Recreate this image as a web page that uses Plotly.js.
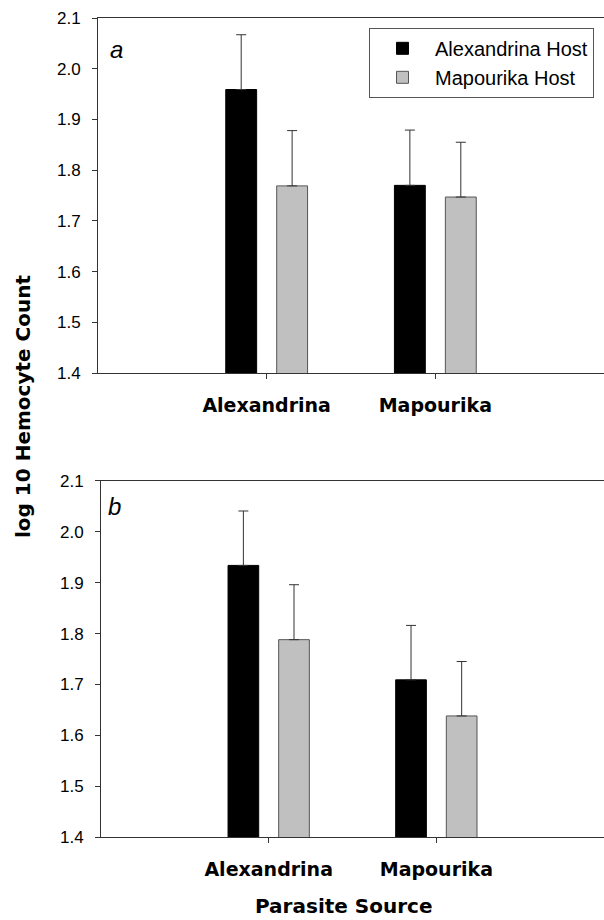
<!DOCTYPE html>
<html>
<head>
<meta charset="utf-8">
<script src="https://cdn.plot.ly/plotly-3.0.1.min.js"></script>
<style>html,body{margin:0;padding:0;background:#fff;}#chart{width:604px;height:920px;}</style>
</head>
<body>
<div id="chart"></div>
<script>
// ---- data ----
const categories = ['Alexandrina', 'Mapourika'];
const hostNames = ['Alexandrina Host', 'Mapourika Host'];

// panel a
const aAlexHost = [1.959, 1.770];
const aAlexHostErr = [0.108, 0.109];
const aMapHost = [1.769, 1.747];
const aMapHostErr = [0.109, 0.108];

// panel b
const bAlexHost = [1.934, 1.709];
const bAlexHostErr = [0.107, 0.107];
const bMapHost = [1.788, 1.638];
const bMapHostErr = [0.108, 0.107];

const panelLabels = ['a', 'b'];
const xTitle = 'Parasite Source';
const yTitle = 'log 10 Hemocyte Count';

// ---- styles ----
const axisColor = '#333333';
const fills = ['#000000', '#c0c0c0'];
const outlines = ['#000000', '#555555'];
const zeros = categories.map(() => 0);

function barTrace(name, vals, errs, idx, xa, ya, showLegend) {
  return {
    type: 'bar', name: name, x: categories, y: vals,
    xaxis: xa, yaxis: ya, showlegend: showLegend, legendgroup: name,
    marker: {color: fills[idx], line: {color: outlines[idx], width: 1}},
    error_y: {type: 'data', symmetric: false, array: errs, arrayminus: zeros,
              color: axisColor, thickness: 1, width: 5}
  };
}

const data = [
  barTrace(hostNames[0], aAlexHost, aAlexHostErr, 0, 'x', 'y', true),
  barTrace(hostNames[1], aMapHost, aMapHostErr, 1, 'x', 'y', true),
  barTrace(hostNames[0], bAlexHost, bAlexHostErr, 0, 'x2', 'y2', false),
  barTrace(hostNames[1], bMapHost, bMapHostErr, 1, 'x2', 'y2', false)
];

const tickFont = {family: '"Liberation Sans", Arial, sans-serif', size: 17, color: '#000'};
const catFont = {family: '"DejaVu Sans", sans-serif', size: 19, color: '#000', weight: 'bold'};

function xAxis(anchor, domain) {
  return {
    anchor: anchor, domain: domain, type: 'category', range: [-1, 2],
    showline: true, linecolor: axisColor, linewidth: 1, mirror: true,
    ticks: 'outside', ticklen: 5, tickcolor: axisColor, tickwidth: 1,
    tickfont: catFont, ticklabelstandoff: 10, showgrid: false, zeroline: false,
    fixedrange: true
  };
}
function yAxis(anchor, domain) {
  return {
    anchor: anchor, domain: domain, range: [1.4, 2.1], dtick: 0.1, tick0: 1.4,
    tickformat: '.1f',
    showline: true, linecolor: axisColor, linewidth: 1, mirror: false,
    ticks: 'outside', ticklen: 5, tickcolor: axisColor, tickwidth: 1,
    tickfont: tickFont, ticklabelstandoff: 8, showgrid: false, zeroline: false,
    fixedrange: true
  };
}

const layout = {
  width: 604, height: 920,
  margin: {l: 98, r: 0, t: 18, b: 83},
  paper_bgcolor: '#fff', plot_bgcolor: '#fff',
  barmode: 'group', bargap: 0.396, bargroupgap: 0.394,
  xaxis: xAxis('y', [0, 1]),
  yaxis: yAxis('x', [0.5665, 1]),
  xaxis2: xAxis('y2', [0.006, 1]),
  yaxis2: yAxis('x2', [0, 0.4347]),
  showlegend: true,
  legend: {
    x: 0.5356, y: 0.988, xanchor: 'left', yanchor: 'top',
    bordercolor: '#555555', borderwidth: 1, bgcolor: '#fff',
    font: {family: '"Liberation Sans", Arial, sans-serif', size: 20, color: '#000'},
    itemwidth: 55, tracegroupgap: 0
  },
  annotations: [
    {text: panelLabels[0], xref: 'x domain', yref: 'y domain', x: 0.02, y: 0.91,
     xanchor: 'left', yanchor: 'middle', showarrow: false,
     font: {family: '"Liberation Sans", Arial, sans-serif', size: 24, style: 'italic', color: '#000'}},
    {text: panelLabels[1], xref: 'x2 domain', yref: 'y2 domain', x: 0.01, y: 0.927,
     xanchor: 'left', yanchor: 'middle', showarrow: false,
     font: {family: '"Liberation Sans", Arial, sans-serif', size: 24, style: 'italic', color: '#000'}},
    {text: xTitle, xref: 'paper', yref: 'paper', x: 0.487, y: 0, yshift: -69,
     xanchor: 'center', yanchor: 'middle', showarrow: false,
     font: {family: '"DejaVu Sans", sans-serif', size: 20, weight: 'bold', color: '#000'}},
    {text: yTitle, xref: 'paper', yref: 'paper', x: 0, xshift: -75, y: 0.525,
     xanchor: 'center', yanchor: 'middle', textangle: -90, showarrow: false,
     font: {family: '"DejaVu Sans", sans-serif', size: 20, weight: 'bold', color: '#000'}}
  ]
};

Plotly.newPlot('chart', data, layout, {displayModeBar: false, staticPlot: true});
</script>
</body>
</html>
